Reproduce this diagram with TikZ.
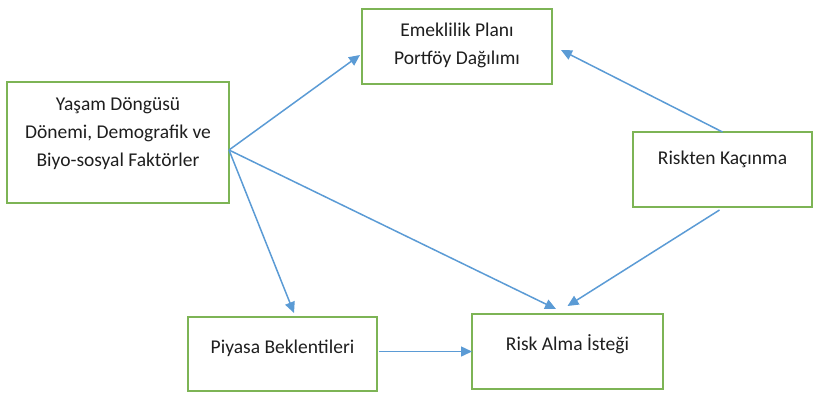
\documentclass[tikz,border=0pt]{standalone}
\usepackage{fontspec}
\setmainfont{Carlito}
\usetikzlibrary{calc,arrows.meta,positioning}
\definecolor{boxgreen}{RGB}{125,180,85}
\definecolor{linkblue}{RGB}{91,155,213}
\definecolor{ink}{RGB}{30,30,30}

\begin{document}
\begin{tikzpicture}[x=1pt,y=-1pt,every node/.style={font=\fontsize{19.5}{28}\selectfont},
          box/.style={draw=boxgreen,line width=1.4pt,inner sep=0pt,outer sep=0pt},
          txt/.style={align=center,text=ink,inner sep=0pt},
          link/.style={draw=linkblue,line width=1.5pt,-{Triangle[length=11pt,width=10pt]}}]
        \useasboundingbox (0,0) rectangle (814,392);
        \node[box,minimum width=190pt,minimum height=75pt,
          label={[txt,yshift=1pt]center:{Emeklilik Planı\\Portföy Dağılımı}}] (plan) at (457,46.5) {};
        \node[box,minimum width=222pt,minimum height=121pt,
          label={[txt,yshift=9pt]center:{Yaşam Döngüsü\\Dönemi, Demografik ve\\Biyo-sosyal Faktörler}}] (yasam) at (118,142.5) {};
        \node[box,minimum width=179pt,minimum height=75pt,
          label={[txt,yshift=10pt]center:{Riskten Kaçınma}}] (kacinma) at (722.5,169.5) {};
        \node[box,minimum width=189pt,minimum height=74pt,
          label={[txt,yshift=6pt]center:{Piyasa Beklentileri}}] (piyasa) at (282.5,354) {};
        \node[box,minimum width=191pt,minimum height=75pt,
          label={[txt,yshift=7pt]center:{Risk Alma İsteği}}] (istek) at (567.5,351.5) {};
        % connector ends
        \coordinate (yout) at ($(yasam.east)+(0,7.5)$);
        \coordinate (planL) at ($(plan.west)+(-2,8.5)$);
        \coordinate (planR) at ($(plan.east)+(9,3.5)$);
        \coordinate (piyasaT) at ($(piyasa.north)+(11.5,-4)$);
        \coordinate (istekT1) at ($(istek.north)+(-11.5,-5)$);
        \coordinate (istekT2) at ($(istek.north)+(0,-8)$);
        \coordinate (kacinmaB) at ($(kacinma.south)+(-3,3)$);
        \coordinate (piyasaR) at ($(piyasa.east|-istek.west)+(2,0)$);
        \foreach \a/\b in {yout/planL,kacinma.north/planR,yout/piyasaT,yout/istekT1,kacinmaB/istekT2,piyasaR/istek.west}
          \draw[link] (\a)--(\b);
      \end{tikzpicture}
\end{document}
